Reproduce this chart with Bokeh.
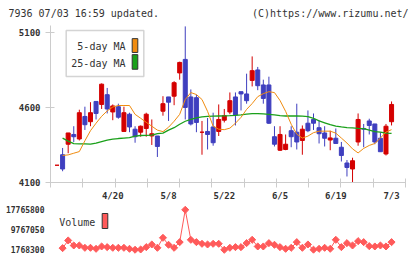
import numpy as np
from bokeh.plotting import figure
from bokeh.models import Range1d, FixedTicker, ColumnDataSource, Label
from bokeh.layouts import column
from bokeh.embed import file_html
from bokeh.resources import INLINE
from bokeh.core.properties import value

FONT = "DejaVu Sans Mono"

# Daily prices, oldest session first
opens = [4215, 4285, 4355, 4420, 4390, 4540, 4505, 4640, 4620, 4685,
         4570, 4605, 4440, 4555, 4455, 4435, 4460, 4410, 4410, 4575,
         4670, 4675, 4830, 4920, 4670, 4665, 4435, 4440, 4470, 4440,
         4515, 4570, 4670, 4705, 4690, 4780, 4850, 4750, 4750, 4405,
         4315, 4320, 4445, 4435, 4380, 4495, 4520, 4465, 4430, 4383,
         4395, 4335, 4230, 4190, 4370, 4460, 4510, 4490, 4395, 4290,
         4505]
highs = [4215, 4330, 4430, 4475, 4585, 4605, 4635, 4640, 4760, 4730,
         4620, 4625, 4605, 4565, 4475, 4480, 4565, 4520, 4410, 4675,
         4670, 4775, 4905, 5140, 4720, 4685, 4510, 4530, 4565, 4620,
         4590, 4700, 4700, 4705, 4825, 4940, 4870, 4785, 4805, 4475,
         4475, 4420, 4475, 4625, 4480, 4580, 4560, 4515, 4475, 4445,
         4460, 4370, 4250, 4265, 4560, 4490, 4525, 4490, 4435, 4490,
         4640]
lows = [4215, 4175, 4295, 4370, 4380, 4450, 4475, 4520, 4590, 4560,
        4515, 4525, 4440, 4435, 4365, 4405, 4405, 4350, 4270, 4545,
        4510, 4615, 4785, 4520, 4480, 4435, 4285, 4320, 4345, 4410,
        4500, 4555, 4480, 4580, 4625, 4740, 4715, 4625, 4490, 4340,
        4310, 4315, 4335, 4320, 4285, 4435, 4450, 4360, 4340, 4315,
        4360, 4240, 4140, 4100, 4345, 4335, 4420, 4355, 4305, 4280,
        4480]
closes = [4215, 4190, 4430, 4405, 4565, 4485, 4565, 4560, 4755, 4590,
          4610, 4535, 4565, 4470, 4405, 4475, 4555, 4425, 4340, 4625,
          4635, 4765, 4900, 4600, 4490, 4500, 4435, 4420, 4365, 4520,
          4545, 4645, 4550, 4690, 4645, 4845, 4745, 4660, 4495, 4355,
          4420, 4355, 4405, 4370, 4455, 4445, 4495, 4425, 4395, 4397,
          4360, 4280, 4200, 4245, 4520, 4455, 4480, 4370, 4305, 4475,
          4620]

# Moving averages and volume, one value per slot from slot 1 onwards
ma5 = [4280, 4284, 4295, 4306, 4378, 4445, 4495, 4541, 4577, 4603,
       4613, 4613, 4613, 4554, 4528, 4501, 4475, 4449, 4439, 4468,
       4508, 4554, 4653, 4699, 4686, 4653, 4574, 4475, 4455, 4452,
       4462, 4495, 4534, 4587, 4626, 4672, 4692, 4705, 4699, 4646,
       4574, 4488, 4422, 4396, 4409, 4432, 4442, 4442, 4442, 4429,
       4396, 4363, 4324, 4297, 4327, 4347, 4360, 4396, 4436, 4452]
ma25 = [4396, 4376, 4359, 4357, 4357, 4355, 4363, 4373, 4383, 4389,
        4393, 4396, 4399, 4409, 4413, 4414, 4416, 4426, 4429, 4449,
        4465, 4488, 4508, 4521, 4531, 4537, 4541, 4542, 4543, 4544,
        4545, 4547, 4551, 4556, 4559, 4559, 4557, 4554, 4551, 4546,
        4543, 4543, 4543, 4542, 4539, 4528, 4511, 4498, 4485, 4476,
        4470, 4466, 4464, 4461, 4459, 4449, 4439, 4436, 4429, 4427]
volume = [2435000, 5501000, 3501000, 3501000, 2568000, 2568000, 2168000, 3101000, 2835000, 2568000,
          2568000, 2568000, 2168000, 1800000, 1902000, 2835000, 3901000, 2568000, 6567000, 3768000,
          2568000, 4834000, 17765800, 5768000, 4834000, 4168000, 3901000, 4168000, 4168000, 1768300,
          2568000, 2835000, 2835000, 4434000, 5768000, 3101000, 3101000, 4434000, 3768000, 2835000,
          2168000, 2568000, 4834000, 2568000, 3901000, 1820000, 2168000, 2568000, 2168000, 5768000,
          2835000, 4434000, 3501000, 5234000, 4834000, 3235000, 3101000, 3501000, 3101000, 4834000]

date_labels = ["4/20", "5/8", "5/22", "6/5", "6/19", "7/3"]
date_slots = [10, 20, 30, 40, 50, 60]
price_ticks = [4100, 4600, 5100]

UP, DOWN = "#d40000", "#3f3fbf"
ORANGE, GREEN, PINK = "#f08c10", "#1aa01a", "#ff5a5a"
AXIS = "#cccccc"
TXT = "#333333"

W = 420
LEFT, RIGHT = 50, 15
X0, X1 = -1.17, 62.5
Y0, Y1 = 4100, 5146
FRAME_W = W - LEFT - RIGHT
MAIN_H, MAIN_TOP, MAIN_BOTTOM = 181, 3, 19
MAIN_FH = MAIN_H - MAIN_TOP - MAIN_BOTTOM

slots = np.arange(len(closes))
line_slots = slots[1:]


def fx(px):
    return X0 + px * (X1 - X0) / FRAME_W


def fy(py):
    return Y1 - py * (Y1 - Y0) / MAIN_FH


# ---- header strip: its own full-width frame, in page pixels ----
HEAD_H = 22
head = figure(width=W, height=HEAD_H, x_range=Range1d(0, W), y_range=Range1d(0, HEAD_H),
              toolbar_location=None, output_backend="svg", min_border=0)
head.frame_align = False
head.axis.visible = False
head.grid.visible = False
head.outline_line_color = None
head.add_layout(Label(x=8, y=8.7, text="7936 07/03 16:59 updated.", text_font=FONT,
                      text_font_size="10px", text_color=TXT, text_baseline="middle",
                      text_align="left"))
head.add_layout(Label(x=408, y=8.7, text="(C)https://www.rizumu.net/", text_font=FONT,
                      text_font_size="10px", text_color=TXT, text_baseline="middle",
                      text_align="right"))

# ---- candlesticks ----
p = figure(width=W, height=MAIN_H, x_range=Range1d(X0, X1), y_range=Range1d(Y0, Y1),
           toolbar_location=None, output_backend="svg",
           min_border_left=LEFT, min_border_right=RIGHT,
           min_border_top=MAIN_TOP, min_border_bottom=MAIN_BOTTOM)
p.grid.visible = False
p.outline_line_color = None

o = np.array(opens)
c = np.array(closes)
colors = [UP if cc >= oo else DOWN for oo, cc in zip(opens, closes)]
src = ColumnDataSource(dict(x=slots, o=o, c=c, h=highs, l=lows,
                            top=np.maximum(o, c), bottom=np.minimum(o, c), color=colors))
p.segment(x0="x", y0="h", x1="x", y1="l", color="color", line_width=1, source=src)
p.vbar(x="x", width=0.72, top="top", bottom="bottom", fill_color="color",
       line_color="color", line_width=1, source=src)

p.line(line_slots, ma25, color=GREEN, line_width=1.3)
p.line(line_slots, ma5, color=ORANGE, line_width=1)

# legend box
p.quad(left=[fx(15.7)], right=[fx(93.3)], top=[fy(5)], bottom=[fy(51.7)],
       fill_color="white", line_color="#d4d4d4", line_width=1.5)
p.text(x=[fx(75), fx(75)], y=[fy(21.7), fy(38.3)], text=["5-day MA", "25-day MA"],
       text_font=value(FONT), text_font_size="10px", text_color=TXT,
       text_align="right", text_baseline="middle")
p.quad(left=[fx(81.7)] * 2, right=[fx(87.3)] * 2, top=[fy(13.3), fy(29.5)],
       bottom=[fy(27.3), fy(44.3)], fill_color=[ORANGE, GREEN], line_color=TXT, line_width=1)

p.yaxis.ticker = FixedTicker(ticks=price_ticks)
p.yaxis.axis_line_color = AXIS
p.yaxis.major_tick_line_color = AXIS
p.yaxis.major_tick_in = 4
p.yaxis.major_tick_out = 5
p.yaxis.minor_tick_line_color = None
p.yaxis.major_label_text_font = FONT
p.yaxis.major_label_text_font_size = "9px"
p.yaxis.major_label_text_font_style = "bold"
p.yaxis.major_label_text_color = TXT
p.yaxis.major_label_standoff = 5

eps = 1e-6
p.xaxis.ticker = FixedTicker(ticks=date_slots,
                             minor_ticks=list(np.linspace(X0 + eps, X1 - eps, 12)))
p.xaxis.major_label_overrides = {s: t for s, t in zip(date_slots, date_labels)}
p.xaxis.axis_line_color = AXIS
p.xaxis.major_tick_line_color = None
p.xaxis.major_tick_in = 0
p.xaxis.major_tick_out = 5
p.xaxis.minor_tick_line_color = AXIS
p.xaxis.minor_tick_in = 4
p.xaxis.minor_tick_out = 5
p.xaxis.major_label_text_font = FONT
p.xaxis.major_label_text_font_size = "9px"
p.xaxis.major_label_text_font_style = "bold"
p.xaxis.major_label_text_color = TXT
p.xaxis.major_label_standoff = 3

# ---- volume ----
VOL_H, VOL_TOP, VOL_BOTTOM = 56, 1, 4
vmin, vmax = min(volume), max(volume)
span = vmax - vmin
v = figure(width=W, height=VOL_H, x_range=p.x_range,
           y_range=Range1d(vmin - 0.1425 * span, vmax + 0.1325 * span),
           toolbar_location=None, output_backend="svg",
           min_border_left=LEFT, min_border_right=RIGHT,
           min_border_top=VOL_TOP, min_border_bottom=VOL_BOTTOM)
v.grid.visible = False
v.outline_line_color = None
v.xaxis.visible = False
v.line(line_slots, volume, color=PINK, line_width=1)
v.scatter(line_slots, volume, marker="square", angle=np.pi / 4, size=5,
          fill_color=PINK, line_color=PINK)

vticks = [vmin, (vmin + vmax) / 2, vmax]
v.yaxis.ticker = FixedTicker(ticks=vticks)
v.yaxis.major_label_overrides = {t: str(int(round(t))) for t in vticks}
v.yaxis.axis_line_color = None
v.yaxis.major_tick_line_color = None
v.yaxis.minor_tick_line_color = None
v.yaxis.major_tick_in = 0
v.yaxis.major_tick_out = 0
v.yaxis.major_label_standoff = 6
v.yaxis.major_label_text_font = FONT
v.yaxis.major_label_text_font_size = "8px"
v.yaxis.major_label_text_font_style = "bold"
v.yaxis.major_label_text_color = TXT

VFH = VOL_H - VOL_TOP - VOL_BOTTOM
vy0, vy1 = v.y_range.start, v.y_range.end


def vfy(py):
    return vy1 - py * (vy1 - vy0) / VFH


v.text(x=[fx(8.7)], y=[vfy(17.5)], text=["Volume"], text_font=value(FONT),
       text_font_size="10px", text_color=TXT, text_align="left", text_baseline="middle")
v.quad(left=[fx(51.7)], right=[fx(57.3)], top=[vfy(9)], bottom=[vfy(24)],
       fill_color=PINK, line_color=TXT, line_width=1)

layout = column(head, p, v)
open("out.html", "w").write(file_html(layout, INLINE))
